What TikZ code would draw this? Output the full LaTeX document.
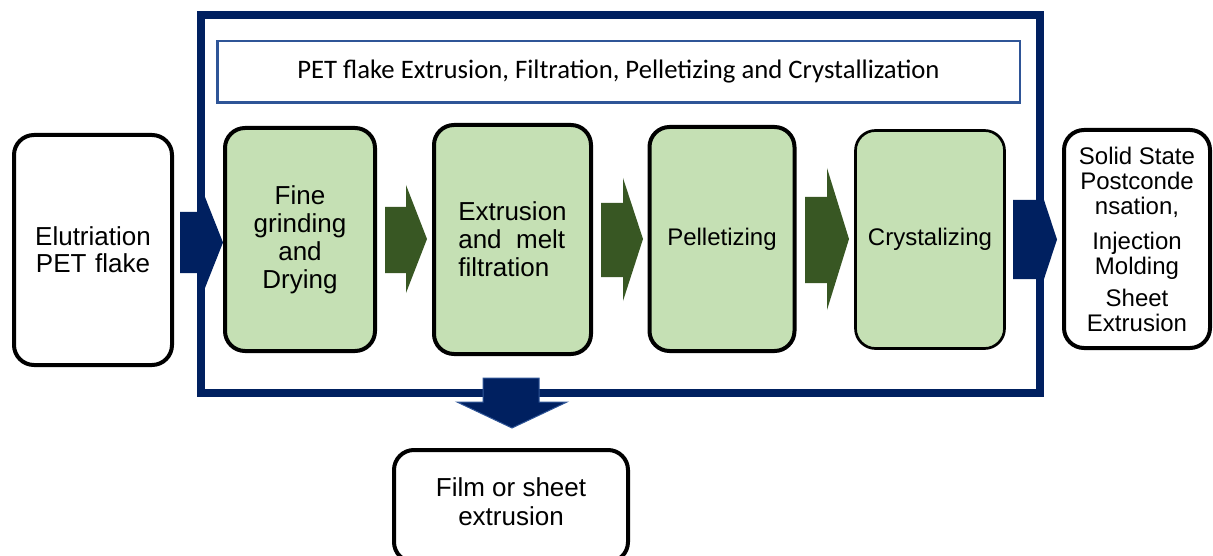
\documentclass[tikz,border=0pt]{standalone}
\usepackage{fontspec}
\setmainfont{Liberation Sans}
\newfontfamily\calibri{Carlito}
\definecolor{navy}{HTML}{002060}
\definecolor{steel}{HTML}{2F5597}
\definecolor{lgreen}{HTML}{C5E0B4}
\definecolor{dgreen}{HTML}{385723}
\begin{document}
\begin{tikzpicture}[x=1pt,y=-1pt,
  box/.style={draw=black,line width=4pt,rounded corners=20pt,fill=white,inner sep=0pt},
  gbox/.style={box,fill=lgreen},
  lbl/.style={font=\fontsize{26}{28}\selectfont,align=center},
  sml/.style={font=\fontsize{24}{25}\selectfont,align=center},
  garrow/.style={fill=dgreen},
  barrow/.style={fill=navy}]
\clip (0,0) rectangle (1213,556);
\fill[white] (0,0) rectangle (1213,556);
% outer frame
\node[draw=navy,line width=8pt,minimum width=839pt,minimum height=377.5pt,inner sep=0pt] (frame) at (620.5,203.75) {};
% title
\node[draw=steel,line width=2.5pt,minimum width=802.5pt,minimum height=61.5pt,inner sep=0pt,
      font=\calibri\fontsize{26.7}{28}\selectfont] (title) at (618.5,72) {PET flake Extrusion, Filtration, Pelletizing and Crystallization};
% block arrows
\fill[barrow] (180,212) -- (201,212) -- (201,187) -- (223,242.5) -- (201,298) -- (201,273) -- (180,273) -- cycle;
\fill[garrow] (385,207) -- (406,207) -- (406,185) -- (427,239) -- (406,293) -- (406,273) -- (385,273) -- cycle;
\fill[garrow] (601,203) -- (623,203) -- (623,178) -- (643,239) -- (623,301) -- (623,277) -- (601,277) -- cycle;
\fill[garrow] (805,197) -- (827,197) -- (827,168) -- (849,239) -- (827,310) -- (827,283) -- (805,283) -- cycle;
\fill[barrow] (1013,200) -- (1044,200) -- (1057,239.5) -- (1044,279) -- (1013,279) -- cycle;
\filldraw[fill=navy,draw=steel,line width=1pt] (483,378) -- (539,378) -- (539,402) -- (567,402) -- (512,428) -- (457,402) -- (483,402) -- cycle;
% boxes
\node[box,lbl,text width=150pt,minimum width=158pt,minimum height=230pt,font=\fontsize{26}{27}\selectfont] (elu) at (93,250) {Elutriation\\PET flake};
\node[gbox,lbl,minimum width=150pt,minimum height=223pt] (fine) at (300,239.5) {Fine\\grinding\\and\\Drying};
\node[gbox,lbl,align=left,minimum width=157pt,minimum height=229pt] (extr) at (512.5,239.5) {Extrusion\\and~ melt\\filtration};
\node[gbox,minimum width=145pt,minimum height=224pt,font=\fontsize{24}{25}\selectfont] (pell) at (722,239) {Pelletizing};
\node[gbox,line width=2.7pt,minimum width=149pt,minimum height=218pt,font=\fontsize{24}{25}\selectfont] (crys) at (930,239.5) {Crystalizing};
\node[box,sml,minimum width=146pt,minimum height=218pt] (out) at (1137,239) {Solid State\\Postconde\\nsation,\\[10pt]Injection\\Molding\\[7pt]Sheet\\Extrusion};
\node[box,minimum width=234pt,minimum height=112pt] (film) at (511,506) {};
\node[lbl,font=\fontsize{26}{29}\selectfont] (filmtxt) at (511,502) {Film or sheet\\extrusion};
\end{tikzpicture}
\end{document}
